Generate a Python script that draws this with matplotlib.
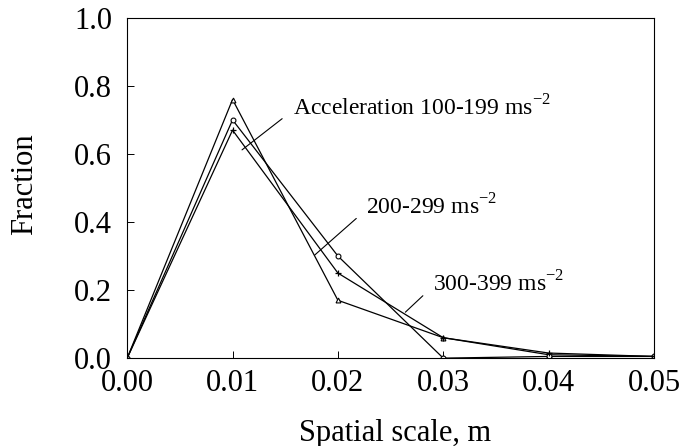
import matplotlib.pyplot as plt

scale = [0.00, 0.01, 0.02, 0.03, 0.04, 0.05]
acc_100_199 = [0.0, 0.76, 0.17, 0.06, 0.01, 0.005]
acc_200_299 = [0.0, 0.70, 0.30, 0.0, 0.005, 0.005]
acc_300_399 = [0.0, 0.67, 0.25, 0.06, 0.015, 0.005]

x_labels = ['0.00', '0.01', '0.02', '0.03', '0.04', '0.05']
y_ticks = [0.0, 0.2, 0.4, 0.6, 0.8, 1.0]
y_labels = ['0.0', '0.2', '0.4', '0.6', '0.8', '1.0']

plt.rcParams['font.family'] = ['Liberation Serif', 'DejaVu Serif']

fig = plt.figure(figsize=(6.95, 4.46), dpi=100)
ax = fig.add_axes([0.183, 0.197, 0.758, 0.763])

ax.plot(scale, acc_100_199, color='black', lw=0.9, marker='^', ms=3.5, mfc='white', mew=0.8)
ax.plot(scale, acc_200_299, color='black', lw=0.9, marker='o', ms=3.5, mfc='white', mew=0.8)
ax.plot(scale, acc_300_399, color='black', lw=0.9, marker='+', ms=4.5, mew=0.9)

ax.set_xlim(0, 0.05)
ax.set_ylim(0, 1.0)
ax.set_xticks(scale)
ax.set_xticklabels(x_labels)
ax.set_yticks(y_ticks)
ax.set_yticklabels(y_labels)
ax.tick_params(direction='in', labelsize=22, length=5, width=0.7)
ax.tick_params(axis='y', pad=11)
ax.tick_params(axis='x', pad=8)
for s in ax.spines.values():
    s.set_linewidth(0.8)

ax.set_xlabel('Spatial scale, m', fontsize=22, va='center')
ax.xaxis.set_label_coords(0.508, -0.22)
ax.set_ylabel('Fraction', fontsize=22, va='center')
ax.yaxis.set_label_coords(-0.195, 0.51)

# leader lines from each label to its curve
arrow = dict(arrowstyle='-', color='black', lw=0.8, shrinkA=7, shrinkB=0, relpos=(0, 0.4))
ax.annotate('Acceleration 100-199 ms$^{\\mathregular{-2}}$', xy=(0.0109, 0.612), xytext=(0.0157, 0.735),
            fontsize=17, va='center', ha='left', arrowprops=arrow)
ax.annotate('200-299 ms$^{\\mathregular{-2}}$', xy=(0.0178, 0.303), xytext=(0.0227, 0.444),
            fontsize=17, va='center', ha='left', arrowprops=arrow)
ax.annotate('300-399 ms$^{\\mathregular{-2}}$', xy=(0.0264, 0.135), xytext=(0.0290, 0.218),
            fontsize=17, va='center', ha='left', arrowprops=arrow)

fig.savefig('out.png', dpi=100)
